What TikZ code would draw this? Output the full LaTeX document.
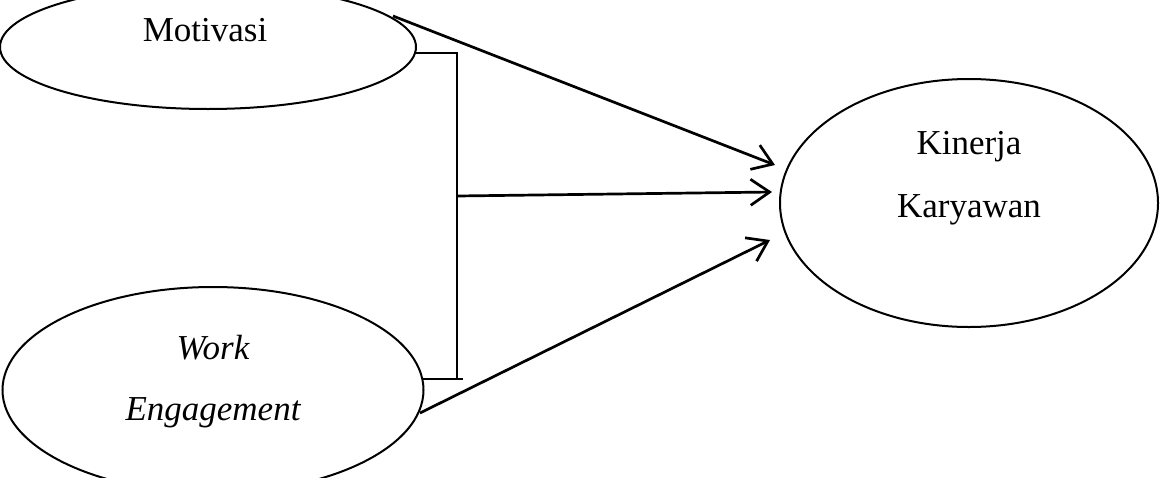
\documentclass[tikz,border=0pt]{standalone}
\usepackage{fontspec}
\setmainfont{Liberation Serif}
\usetikzlibrary{shapes.geometric,arrows.meta}
\begin{document}
\begin{tikzpicture}[x=1pt,y=-1pt,
  oval/.style={draw,ellipse,line width=2pt,inner sep=0pt},
  lbl/.style={font=\fontsize{35}{40}\selectfont,inner sep=0pt},
  conn/.style={line width=2.7pt},
  brk/.style={line width=2pt},
  arr/.style={conn,-{Straight Barb[length=19pt,width=26pt,line width=2.7pt]}}]
\useasboundingbox (0,0) rectangle (1161,477);
\clip (0,0) rectangle (1161,477);
\fill[white] (0,0) rectangle (1161,477);
% ellipses
\node[oval,minimum width=416pt,minimum height=124pt] (mot) at (208,47) {};
\node[oval,minimum width=421pt,minimum height=206pt] (we) at (213,390) {};
\node[oval,minimum width=378pt,minimum height=248pt] (kk) at (969,203) {};
% labels
\node[lbl] (tmot) at (205,30) {Motivasi};
\node[lbl] (twork) at (213,348) {\itshape Work};
\node[lbl] (teng) at (213,413) {\itshape Engagement};
\node[lbl] (tkin) at (969,147) {Kinerja};
\node[lbl] (tkar) at (969,210) {Karyawan};
% connector points
\coordinate (m1) at (393,16);
\coordinate (m2) at (416,53);
\coordinate (b1) at (457,53);
\coordinate (b2) at (457,379);
\coordinate (w1) at (422,379);
\coordinate (w1e) at (463,379);
\coordinate (mid) at (457,196);
\coordinate (w2) at (420,413);
\coordinate (t1) at (775,165);
\coordinate (t2) at (772,192);
\coordinate (t3) at (770,240);
% bracket
\draw[brk] (m2) -- (b1) -- (b2);
\draw[brk] (w1) -- (w1e);
% arrows
\draw[arr] (m1) -- (t1);
\draw[arr] (mid) -- (t2);
\draw[arr] (w2) -- (t3);
\end{tikzpicture}
\end{document}
